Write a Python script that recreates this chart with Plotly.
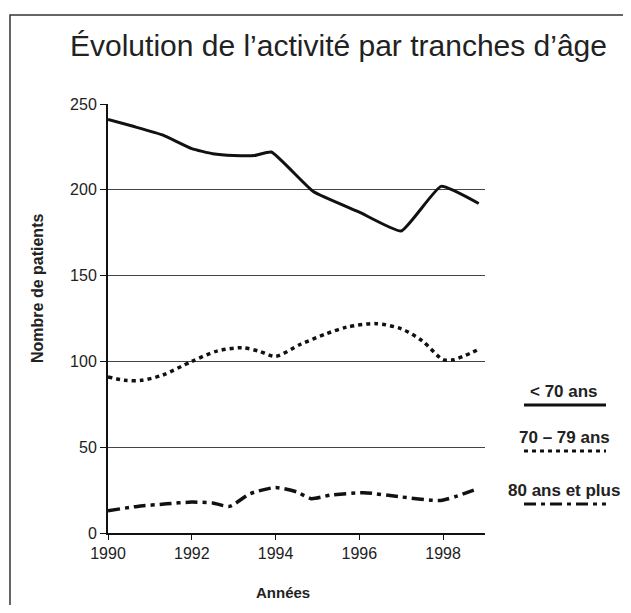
import plotly.graph_objects as go

# < 70 ans
years_u70 = [1990, 1990.6, 1991.3, 1992, 1992.5, 1993, 1993.5, 1993.9, 1994.9, 1996, 1997, 1997.95, 1998.85]
vals_u70 = [241, 237, 232, 224, 221, 220, 220, 222, 199, 187, 176, 202, 192]

# 70 - 79 ans
years_7079 = [1990, 1990.4, 1990.8, 1991.3, 1992, 1992.6, 1993.2, 1993.6, 1994, 1994.6, 1995.2, 1995.7, 1996.4,
              1997.0, 1997.5, 1998, 1998.25, 1998.85]
vals_7079 = [91, 89, 89, 92, 100, 106, 108, 106, 103, 110, 116, 120, 122, 119, 112, 101, 101, 107]

# 80 ans et plus
years_80 = [1990, 1990.7, 1991.4, 1992, 1992.5, 1992.9, 1993.4, 1994, 1994.5, 1994.85, 1995.3, 1996.1,
            1997, 1997.95, 1998.85]
vals_80 = [13, 15.5, 17, 18, 17.5, 15.5, 23, 26.5, 24, 20, 22, 23.5, 21, 19, 26]

ink = "#111111"
font = "Liberation Sans, Arial, sans-serif"

fig = go.Figure()
fig.add_trace(go.Scatter(x=years_u70, y=vals_u70, mode="lines",
                         line=dict(color=ink, width=3, shape="spline", smoothing=0.4)))
fig.add_trace(go.Scatter(x=years_7079, y=vals_7079, mode="lines",
                         line=dict(color=ink, width=3.5, dash="4px,4px", shape="spline", smoothing=0.8)))
fig.add_trace(go.Scatter(x=years_80, y=vals_80, mode="lines",
                         line=dict(color=ink, width=3.5, dash="12px,5px,4px,5px", shape="spline", smoothing=0.6)))

# page body has an 8px margin all round, so size the figure to fit inside it
OFF = 8
FW, FH = 631 - 2 * OFF, 613 - 2 * OFF
L, R, T, B = 108 - OFF, 485 - OFF, 104 - OFF, 533 - OFF
W, H = R - L, B - T


def px(x):
    return (x - OFF - L) / W


def py(y):
    return (B - (y - OFF)) / H


def label(text, x, y, size, angle=0):
    return dict(text=text, xref="paper", yref="paper", x=px(x), y=py(y), textangle=angle,
                xanchor="center", yanchor="middle", showarrow=False,
                font=dict(size=size, color="#222", family=font))


legend = [
    ("&lt; 70 ans", 391, 405, "solid"),
    ("70 – 79 ans", 437, 451, "4px,4px"),
    ("80 ans et plus", 490, 504, "12px,5px,4px,5px"),
]
shapes = [dict(type="rect", xref="paper", yref="paper", x0=px(10), x1=px(680), y0=py(15), y1=py(680),
               line=dict(color="#333", width=1.5))]
annotations = [
    label("Évolution de l’activité par tranches d’âge", 338, 46, 30),
    label("<b>Nombre de patients</b>", 37, 289, 16, -90),
    label("<b>Années</b>", 283, 592, 15),
]
for text, ty, ly, dash in legend:
    annotations.append(label("<b>%s</b>" % text, 564, ty, 17))
    shapes.append(dict(type="line", xref="paper", yref="paper", x0=px(524), x1=px(606), y0=py(ly), y1=py(ly),
                       line=dict(color=ink, width=3, dash=dash)))

fig.update_layout(
    width=FW, height=FH,
    margin=dict(l=L, r=FW - R, t=T, b=FH - B),
    paper_bgcolor="white", plot_bgcolor="white",
    showlegend=False,
    font=dict(family=font, size=16, color="#222"),
    shapes=shapes,
    annotations=annotations,
)
fig.update_xaxes(range=[1990, 1999], tickvals=[1990, 1992, 1994, 1996, 1998], showgrid=False,
                 showline=True, linecolor=ink, linewidth=2, ticks="outside", ticklen=5,
                 tickcolor=ink, zeroline=False)
fig.update_yaxes(range=[0, 250], tickvals=[0, 50, 100, 150, 200, 250], showgrid=True,
                 gridcolor="#444", gridwidth=1.2, showline=True, linecolor=ink, linewidth=2,
                 ticks="outside", ticklen=6, tickcolor=ink, zeroline=False)

fig.write_html("out.html")
